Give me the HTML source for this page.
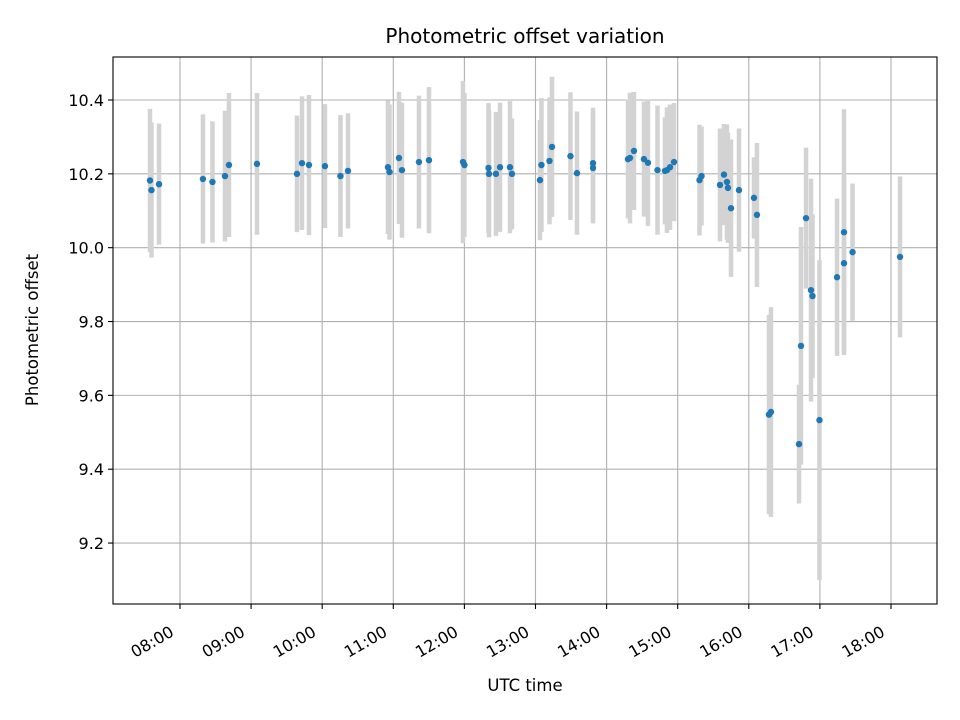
<!DOCTYPE html>
<html><head><meta charset="utf-8"><style>
html,body{margin:0;padding:0;background:#fff;}
svg{display:block;font-family:"DejaVu Sans","Liberation Sans",sans-serif;}
</style></head><body>
<svg id="chart" width="960" height="720" viewBox="0 0 960 720">
<rect width="960" height="720" fill="#fff"/>
<g id="grid"></g>
<g id="errs"></g>
<g id="pts"></g>
<rect x="113" y="57" width="824" height="547" fill="none" stroke="#000" stroke-width="1.1"/>
<g id="ticks"></g>
<text x="525" y="43" font-size="20" text-anchor="middle">Photometric offset variation</text>
<text x="525" y="691" font-size="16.5" text-anchor="middle">UTC time</text>
<text x="38" y="330" font-size="16.5" text-anchor="middle" transform="rotate(-90 38 330)">Photometric offset</text>
</svg>
<script>
const times=[7.578,7.599,7.705,8.323,8.457,8.633,8.689,9.083,9.646,9.716,9.814,10.039,10.257,10.363,10.925,10.947,11.080,11.122,11.361,11.502,11.980,12.001,12.339,12.346,12.444,12.501,12.641,12.669,13.063,13.084,13.197,13.232,13.492,13.584,13.809,13.809,14.301,14.329,14.385,14.526,14.582,14.716,14.821,14.849,14.892,14.948,15.307,15.335,15.595,15.651,15.693,15.707,15.750,15.862,16.073,16.115,16.284,16.312,16.706,16.734,16.805,16.875,16.896,16.994,17.241,17.339,17.339,17.459,18.127];
const values=[10.182,10.156,10.172,10.186,10.178,10.194,10.224,10.227,10.200,10.229,10.224,10.221,10.194,10.208,10.218,10.205,10.243,10.210,10.232,10.237,10.232,10.224,10.216,10.200,10.200,10.218,10.218,10.200,10.183,10.224,10.235,10.273,10.248,10.202,10.229,10.216,10.240,10.243,10.262,10.240,10.230,10.210,10.208,10.210,10.218,10.232,10.183,10.194,10.170,10.198,10.178,10.162,10.107,10.156,10.135,10.089,9.548,9.555,9.468,9.734,10.080,9.885,9.869,9.533,9.920,10.042,9.958,9.988,9.975];
const errors=[0.194,0.183,0.164,0.175,0.164,0.177,0.195,0.192,0.158,0.181,0.190,0.168,0.165,0.156,0.181,0.183,0.179,0.183,0.180,0.198,0.220,0.195,0.176,0.172,0.168,0.175,0.179,0.150,0.163,0.181,0.172,0.190,0.173,0.167,0.150,0.150,0.161,0.177,0.160,0.156,0.171,0.175,0.145,0.170,0.170,0.160,0.150,0.134,0.153,0.137,0.156,0.149,0.186,0.167,0.110,0.195,0.270,0.284,0.161,0.322,0.191,0.302,0.222,0.433,0.213,0.333,0.238,0.186,0.218];
const yTicks=[9.2,9.4,9.6,9.8,10.0,10.2,10.4];
const yTickLabels=["9.2","9.4","9.6","9.8","10.0","10.2","10.4"];
const xTicks=[8,9,10,11,12,13,14,15,16,17,18];
const xTickLabels=["08:00","09:00","10:00","11:00","12:00","13:00","14:00","15:00","16:00","17:00","18:00"];

const NS="http://www.w3.org/2000/svg";
const L=113,R=937,T=57,B=604;
const X0=7.058,X1=18.647,Y0=9.0349,Y1=10.5165;
function xs(h){return L+(h-X0)/(X1-X0)*(R-L);}
function ys(v){return B-(v-Y0)/(Y1-Y0)*(B-T);}
function mk(tag,attrs,parent){const e=document.createElementNS(NS,tag);for(const k in attrs)e.setAttribute(k,attrs[k]);parent.appendChild(e);return e;}
const grid=document.getElementById('grid'),ticks=document.getElementById('ticks');
const errsG=document.getElementById('errs'),ptsG=document.getElementById('pts');
yTicks.forEach((v,i)=>{
  const y=ys(v);
  const g=mk('line',{x1:L,x2:R,y1:y,y2:y,stroke:'#b0b0b0','stroke-width':1.1},grid);
  
  
  mk('line',{x1:L-5,x2:L,y1:y,y2:y,stroke:'#000','stroke-width':1.1},ticks);
  const t=mk('text',{x:L-9,y:y+6,'font-size':16,'text-anchor':'end'},ticks);
  t.textContent=yTickLabels[i];
  
  
});
xTicks.forEach((h,i)=>{
  const x=xs(h);
  const g=mk('line',{x1:x,x2:x,y1:T,y2:B,stroke:'#b0b0b0','stroke-width':1.1},grid);
  
  
  mk('line',{x1:x,x2:x,y1:B,y2:B+5,stroke:'#000','stroke-width':1.1},ticks);
  const ax=x-5, ay=B+31;
  const t=mk('text',{x:ax,y:ay,'font-size':16,'text-anchor':'end',transform:`rotate(-30 ${ax} ${ay})`},ticks);
  t.textContent=xTickLabels[i];
  
  
});
times.forEach((h,i)=>{
  const x=xs(h);
  const b=mk('line',{x1:x,x2:x,y1:ys(values[i]+errors[i]),y2:ys(values[i]-errors[i]),stroke:'#d3d3d3','stroke-width':4.5},errsG);
  
  
});
times.forEach((h,i)=>{
  const c=mk('circle',{cx:xs(h),cy:ys(values[i]),r:3.2,fill:'#1f77b4'},ptsG);
  
  
});
</script>
</body></html>
